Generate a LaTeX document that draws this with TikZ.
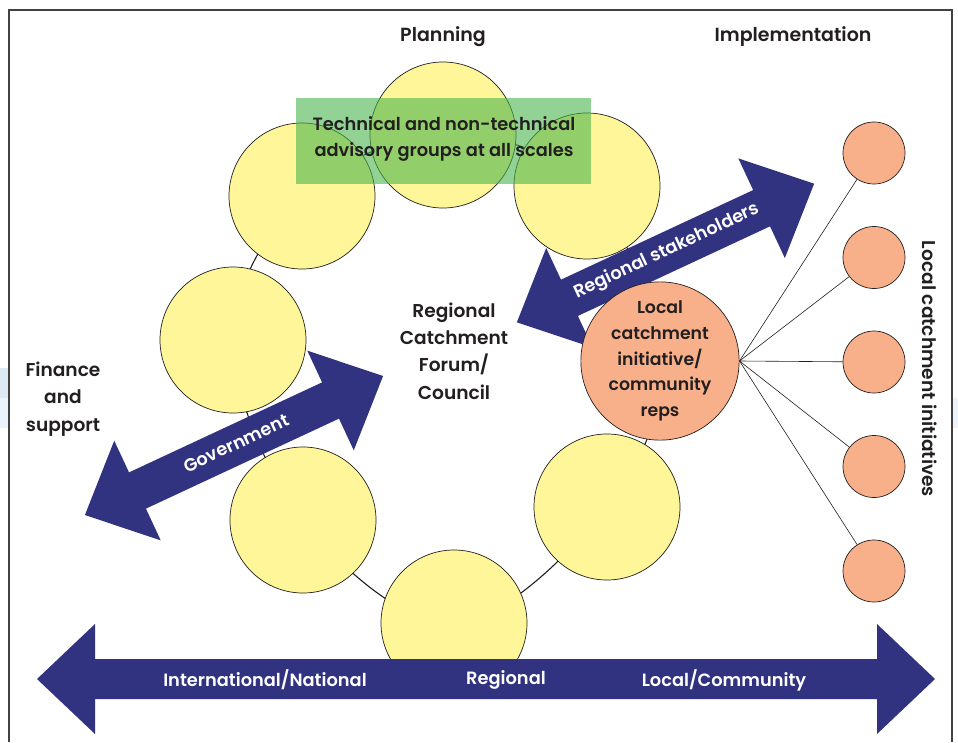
\documentclass[tikz,border=0pt]{standalone}
\usepackage{fontspec}
\setmainfont{Poppins SemiBold}
\usetikzlibrary{calc}

\definecolor{navy}{RGB}{49,51,128}
\definecolor{sun}{RGB}{255,246,153}
\definecolor{peach}{RGB}{248,176,138}
\definecolor{leaf}{RGB}{70,180,74}
\definecolor{ink}{RGB}{35,31,32}
\definecolor{haze}{RGB}{221,234,245}
\definecolor{hazelight}{RGB}{236,243,250}

% double-headed block arrow centred on the origin, half length #1
\tikzset{
  pics/dblarrow/.style={code={
    \fill[navy] ({-#1},0) -- ({-#1+58},55) -- ({-#1+58},20) -- ({#1-58},20)
      -- ({#1-58},55) -- ({#1},0) -- ({#1-58},-55) -- ({#1-58},-20)
      -- ({-#1+58},-20) -- ({-#1+58},-55) -- cycle;
  }}
}

\begin{document}
\begin{tikzpicture}[x=1pt,y=-1pt,
  bigball/.style={circle, draw=ink, line width=0.7pt, fill=sun,
    minimum size=146pt, inner sep=0pt},
  hubball/.style={circle, draw=ink, line width=0.7pt, fill=peach,
    minimum size=146pt, inner sep=0pt, text=ink, align=center,
    font=\fontsize{17.3}{25.8}\selectfont},
  smallball/.style={circle, draw=ink, line width=0.7pt, fill=peach,
    minimum size=62pt, inner sep=0pt},
  heading/.style={text=ink, align=center, inner sep=0pt,
    font=\fontsize{18.6}{27.3}\selectfont},
  bigheading/.style={heading, font=\fontsize{19}{27}\selectfont},
  advice/.style={heading, font=\fontsize{17.8}{26}\selectfont},
  onarrow/.style={text=white, inner sep=0pt,
    font=\fontsize{17.8}{20}\selectfont},
  spoke/.style={draw=ink, line width=0.6pt},
]
\useasboundingbox (0,0) rectangle (958,742);
\fill[white] (0,0) rectangle (958,742);

% faint tints at the page edges
\fill[haze] (0,368) rectangle (8,398);
\fill[hazelight] (0,398) rectangle (8,428);
\fill[hazelight] (953,398) rectangle (958,428);

% frame
\draw[ink!85, line width=1.1pt] (9,742) -- (9,10) -- (952,10) -- (952,742);

% ring of planning groups
\coordinate (pT)  at (443,135);
\coordinate (pTR) at (587,186);
\coordinate (pH)  at (660,361);
\coordinate (pBR) at (607,507);
\coordinate (pB)  at (454,623);
\coordinate (pBL) at (303,520);
\coordinate (pL)  at (233,340);
\coordinate (pTL) at (302,196);

\draw[ink, line width=1.1pt] plot[smooth cycle, tension=0.6] coordinates
  {(pT) (pTR) (pH) (pBR) (pB) (pBL) (pL) (pTL)};

\node[bigball] (gT)  at (pT)  {};
\node[bigball] (gTR) at (pTR) {};
\node[bigball] (gBR) at (pBR) {};
\node[bigball] (gB)  at (pB)  {};
\node[bigball] (gBL) at (pBL) {};
\node[bigball] (gL)  at (pL)  {};
\node[bigball] (gTL) at (pTL) {};

% advisory groups band
\fill[leaf, fill opacity=0.59] (296,98) rectangle (591,184);
\node[advice] (advisory) at (444,139)
  {Technical and non-technical\\advisory groups at all scales};

% headings
\node[bigheading] (planning) at (443,37) {Planning};
\node[bigheading] (implementation) at (793,37) {Implementation};
\node[heading] (forum) at (454,351)
  {Regional\\Catchment\\Forum/\\Council};
\node[heading] (finance) at (63,399) {Finance\\and\\support};
\node[heading, rotate=-90] (initiatives) at (930,369)
  {Local catchment initiatives};

% government arrow
\begin{scope}[shift={(234,445.5)}, rotate=25]
  \pic[transform shape] {dblarrow=164.5};
  \node[onarrow, rotate=25] (government) at (3,-1) {Government};
\end{scope}

% regional stakeholders arrow
\begin{scope}[shift={(665.5,253)}, rotate=25]
  \pic[transform shape] {dblarrow=164};
  \node[onarrow, rotate=25] (stakeholders) at (2,-1) {Regional stakeholders};
\end{scope}

% local catchment hub
\node[hubball] (hub) at (pH)
  {Local\\catchment\\initiative/\\community\\reps};

% local initiatives
\node[smallball] (s1) at (874,153) {};
\node[smallball] (s2) at (874,257.5) {};
\node[smallball] (s3) at (874,362) {};
\node[smallball] (s4) at (874,466.5) {};
\node[smallball] (s5) at (874,571) {};
\foreach \s in {s1,s2,s3,s4,s5}
  \draw[spoke] (hub.east) -- (\s);

% scale arrow along the bottom
\begin{scope}[shift={(486,679)}]
  \pic {dblarrow=449};
\end{scope}
\node[onarrow] (intl) at (265,680) {International/National};
\node[onarrow] (regional) at (506,680) {Regional};
\node[onarrow] (local) at (724,680) {Local/Community};
\end{tikzpicture}
\end{document}
